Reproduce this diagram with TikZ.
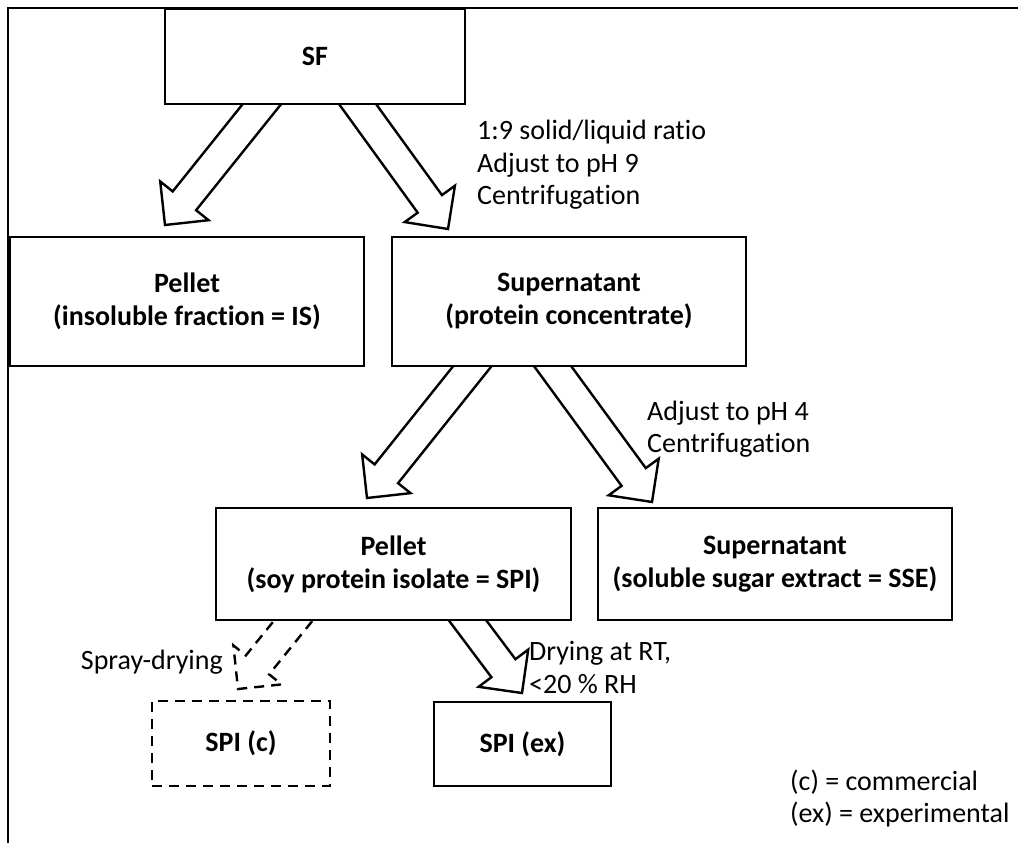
\documentclass[tikz,border=0pt]{standalone}
\usepackage{fontspec}
\setmainfont{Carlito}[Ligatures={TeX,NoCommon}]
\usetikzlibrary{calc}
\tikzset{
  box/.style={draw, line width=2.4pt, fill=white, font=\bfseries\fontsize{28}{33}\selectfont, align=center, inner sep=0pt},
  note/.style={font=\fontsize{28}{32.5}\selectfont, align=left, inner sep=0pt},
  blk/.style={draw, line width=2.4pt, fill=white, line join=miter, miter limit=10},
}
\newcommand\blockarr[3][]{%
  \coordinate (bE) at (#3);
  \coordinate (bS) at ($(#2)!-12pt!(bE)$);
  \coordinate (bN) at ($(bE)!31pt!(bS)$);
  \draw[blk,#1] ($(bS)!15pt!90:(bE)$) -- ($(bN)!15pt!90:(bE)$) -- ($(bN)!31pt!90:(bE)$) -- (bE)
     -- ($(bN)!31pt!-90:(bE)$) -- ($(bN)!15pt!-90:(bE)$) -- ($(bS)!15pt!-90:(bE)$);
}
\begin{document}
\begin{tikzpicture}[x=1pt,y=-1pt]
\useasboundingbox (0,0) rectangle (1018,843);
% frame
\draw[line width=2pt] (8,843) -- (8,8) -- (1018,8);

% box centres
\path (315,56.5) coordinate (cSF);
\path (187,301.5) coordinate (cIS);
\path (569,301.5) coordinate (cSUP);
\path (393.5,564) coordinate (cSPI);
\path (775,564) coordinate (cSSE);
\path (241,743.5) coordinate (cSPIc);
\path (522.5,744) coordinate (cSPIex);

% arrow start and tip coordinates
\coordinate (s1) at (262,104);   \coordinate (e1) at (165,225);
\coordinate (s2) at (357.5,104); \coordinate (e2) at (448,229);
\coordinate (s3) at (472.5,366); \coordinate (e3) at (367,498);
\coordinate (s4) at (552.5,366); \coordinate (e4) at (652,502);
\coordinate (s5) at (293,621);   \coordinate (e5) at (238,689);
\coordinate (s6) at (468,621);   \coordinate (e6) at (522,693);

\blockarr{s1}{e1}
\blockarr{s2}{e2}
\blockarr{s3}{e3}
\blockarr{s4}{e4}
\blockarr[dashed, dash pattern=on 10pt off 7pt]{s5}{e5}
\blockarr{s6}{e6}

% boxes
\node[box, minimum width=300, minimum height=95] (SF) at (cSF) {SF};
\node[box, minimum width=354, minimum height=129] (IS) at (cIS) {Pellet\\(insoluble fraction = IS)};
\node[box, minimum width=354, minimum height=129] (SUP) at (cSUP) {Supernatant\\(protein concentrate)};
\node[box, minimum width=355, minimum height=112] (SPI) at (cSPI) {Pellet\\(soy protein isolate = SPI)};
\node[box, minimum width=354, minimum height=112] (SSE) at (cSSE) {Supernatant\\(soluble sugar extract = SSE)};
\node[box, dashed, dash pattern=on 10pt off 7pt, minimum width=178, minimum height=85] (SPIc) at (cSPIc) {SPI (c)};
\node[box, minimum width=177, minimum height=84] (SPIex) at (cSPIex) {SPI (ex)};

% annotations
\node[note, anchor=west] (n1) at (477,165) {1:9 solid/liquid ratio\\Adjust to pH 9\\Centrifugation};
\node[note, anchor=west] (n2) at (647,429) {Adjust to pH 4\\Centrifugation};
\node[note, anchor=east] (n3) at (223,662) {Spray-drying};
\node[note, anchor=west] (n4) at (529,667.5) {Drying at RT,\\<20 \% RH};
\node[note, anchor=west] (leg) at (790,798.5) {(c) = commercial\\(ex) = experimental};
\end{tikzpicture}
\end{document}
